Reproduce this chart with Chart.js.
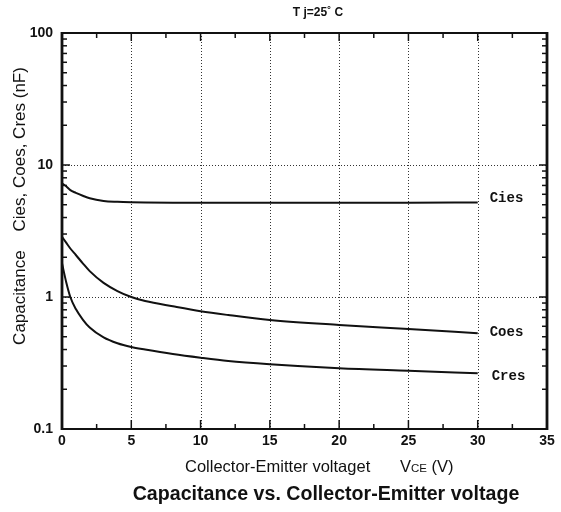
<!DOCTYPE html>
<html>
<head>
<meta charset="utf-8">
<script src="https://cdn.jsdelivr.net/npm/chart.js@4"></script>
<style>
  html, body { margin: 0; padding: 0; background: #fff; }
  #c { display: block; }
</style>
</head>
<body>
<canvas id="c" width="561" height="512"></canvas>
<script>
// ---- data ----
const vce  = [0,    0.3,  0.6,  1,    1.5,  2,    3,    4,    5,    6,    8,     10,    12,    15,    20,    25,    30];
const cies = [7.27, 6.9,  6.45, 6.15, 5.85, 5.6,  5.34, 5.26, 5.22, 5.2,  5.18,  5.17,  5.17,  5.17,  5.17,  5.18,  5.2];
const coes = [2.86, 2.58, 2.33, 2.08, 1.8,  1.57, 1.28, 1.11, 1.0,  0.933, 0.85, 0.78,  0.73,  0.67,  0.614, 0.572, 0.531];
const cres = [1.8,  1.3,  1.0,  0.81, 0.675, 0.587, 0.494, 0.446, 0.418, 0.4, 0.37,  0.347, 0.328, 0.31,  0.289, 0.276, 0.264];
const seriesNames = ['Cies', 'Coes', 'Cres'];
const xTickValues = [0, 5, 10, 15, 20, 25, 30, 35];
const yTickLabels = ['0.1', '1', '10', '100'];
const xTitle = 'Collector-Emitter voltaget';
const yTitle = 'Capacitance    Cies, Coes, Cres (nF)';
const chartTitle = 'Capacitance vs. Collector-Emitter voltage';
const condition = 'T j=25\u02DA C';

const toPts = (arr) => vce.map((x, i) => ({ x: x, y: arr[i] }));
const FONT = "'Liberation Sans', Arial, Helvetica, sans-serif";

const framePlugin = {
  id: 'frame',
  beforeDraw(chart) {
    const ctx = chart.ctx;
    ctx.save();
    ctx.fillStyle = '#fff';
    ctx.fillRect(0, 0, chart.width, chart.height);
    ctx.restore();
  },
  beforeDatasetsDraw(chart) {
    const { ctx, chartArea: a, scales } = chart;
    const xs = scales.x, ys = scales.y;
    ctx.save();
    ctx.strokeStyle = '#333';
    ctx.lineWidth = 1;
    ctx.setLineDash([1, 2]);
    [5, 10, 15, 20, 25, 30].forEach(v => {
      const px = Math.round(xs.getPixelForValue(v)) + 0.5;
      ctx.beginPath(); ctx.moveTo(px, a.top); ctx.lineTo(px, a.bottom); ctx.stroke();
    });
    [1, 10].forEach(v => {
      const py = Math.round(ys.getPixelForValue(v)) + 0.5;
      ctx.beginPath(); ctx.moveTo(a.left, py); ctx.lineTo(a.right, py); ctx.stroke();
    });
    ctx.restore();
  },
  afterDatasetsDraw(chart) {
    const { ctx, chartArea: a, scales } = chart;
    const xs = scales.x, ys = scales.y;
    ctx.save();
    ctx.strokeStyle = '#111';
    ctx.setLineDash([]);
    // tick marks (inward)
    ctx.lineWidth = 1.5;
    for (let v = 2.5; v < 35; v += 2.5) {
      const major = Math.abs(v % 5) < 1e-9;
      const px = xs.getPixelForValue(v);
      const lb = major ? 9 : 5;
      const lt = major ? 8 : 5;
      ctx.beginPath(); ctx.moveTo(px, a.bottom); ctx.lineTo(px, a.bottom - lb); ctx.stroke();
      ctx.beginPath(); ctx.moveTo(px, a.top); ctx.lineTo(px, a.top + lt); ctx.stroke();
    }
    for (let d = 0.1; d < 100; d *= 10) {
      for (let k = 2; k <= 10; k++) {
        const v = d * k;
        if (v >= 100) break;
        const py = ys.getPixelForValue(v);
        const len = (k === 10) ? 8 : 5;
        ctx.beginPath(); ctx.moveTo(a.left, py); ctx.lineTo(a.left + len, py); ctx.stroke();
        ctx.beginPath(); ctx.moveTo(a.right, py); ctx.lineTo(a.right - len, py); ctx.stroke();
      }
    }
    // frame
    ctx.lineWidth = 2;
    ctx.beginPath(); ctx.moveTo(a.left - 1, a.top); ctx.lineTo(a.right + 1, a.top); ctx.stroke();
    ctx.beginPath(); ctx.moveTo(a.left - 1, a.bottom); ctx.lineTo(a.right + 1, a.bottom); ctx.stroke();
    ctx.lineWidth = 2.8;
    ctx.beginPath(); ctx.moveTo(a.left, a.top - 1); ctx.lineTo(a.left, a.bottom + 1); ctx.stroke();
    ctx.beginPath(); ctx.moveTo(a.right, a.top - 1); ctx.lineTo(a.right, a.bottom + 1); ctx.stroke();

    // series labels at the end of the curves
    ctx.fillStyle = '#111';
    ctx.font = "bold 14px 'Liberation Mono', 'DejaVu Sans Mono', monospace";
    ctx.textBaseline = 'middle';
    ctx.textAlign = 'left';
    const lblX = xs.getPixelForValue(30) + 12;
    ctx.fillText(seriesNames[0], lblX, ys.getPixelForValue(cies[cies.length - 1]) - 4);
    ctx.fillText(seriesNames[1], lblX, ys.getPixelForValue(coes[coes.length - 1]) - 1);
    ctx.fillText(seriesNames[2], lblX + 2, ys.getPixelForValue(cres[cres.length - 1]) + 3);
    ctx.restore();
  },
  afterDraw(chart) {
    const ctx = chart.ctx;
    ctx.save();
    ctx.fillStyle = '#111';
    // condition
    ctx.font = 'bold 12px ' + FONT;
    ctx.textAlign = 'center';
    ctx.textBaseline = 'middle';
    ctx.fillText(condition, 318, 13);
    // y title
    ctx.save();
    ctx.translate(20, 206);
    ctx.rotate(-Math.PI / 2);
    ctx.font = '17px ' + FONT;
    ctx.textAlign = 'center';
    ctx.textBaseline = 'middle';
    ctx.fillText(yTitle, 0, 0);
    ctx.restore();
    // x title with small-caps subscript
    ctx.textAlign = 'left';
    ctx.textBaseline = 'alphabetic';
    const base = 472;
    ctx.font = '16.5px ' + FONT;
    ctx.fillText(xTitle, 185, base);
    let x = 400;
    ctx.fillText('V', x, base); x += ctx.measureText('V').width;
    ctx.font = '11.5px ' + FONT;
    ctx.fillText('CE', x, base); x += ctx.measureText('CE').width;
    ctx.font = '16.5px ' + FONT;
    ctx.fillText(' (V)', x, base);
    // chart title
    ctx.font = 'bold 19.6px ' + FONT;
    ctx.textAlign = 'center';
    ctx.fillText(chartTitle, 326, 500);
    ctx.restore();
  }
};

new Chart(document.getElementById('c'), {
  type: 'scatter',
  data: {
    datasets: [
      { label: seriesNames[0], data: toPts(cies) },
      { label: seriesNames[1], data: toPts(coes) },
      { label: seriesNames[2], data: toPts(cres) }
    ].map(d => Object.assign(d, {
      showLine: true,
      borderColor: '#111',
      borderWidth: 2,
      pointRadius: 0,
      fill: false,
      cubicInterpolationMode: 'monotone'
    }))
  },
  options: {
    responsive: false,
    animation: false,
    devicePixelRatio: 1,
    layout: { padding: { left: 0, right: 14, top: 33, bottom: 58 } },
    plugins: { legend: { display: false }, tooltip: { enabled: false }, title: { display: false } },
    scales: {
      x: {
        type: 'linear',
        min: 0, max: 35,
        afterBuildTicks(scale) { scale.ticks = xTickValues.map(v => ({ value: v })); },
        afterFit(scale) { scale.height = 25; },
        grid: { display: false, drawTicks: false },
        border: { display: false },
        ticks: {
          autoSkip: false, maxRotation: 0, padding: 4,
          color: '#111',
          font: { family: FONT, size: 14, weight: 'bold' }
        }
      },
      y: {
        type: 'logarithmic',
        min: 0.1, max: 100,
        afterBuildTicks(scale) { scale.ticks = yTickLabels.map(s => ({ value: parseFloat(s) })); },
        afterFit(scale) { scale.width = 62; },
        grid: { display: false, drawTicks: false },
        border: { display: false },
        ticks: {
          autoSkip: false, padding: 9,
          color: '#111',
          font: { family: FONT, size: 14, weight: 'bold' },
          callback(value) {
            const i = yTickLabels.findIndex(s => Math.abs(parseFloat(s) - value) < 1e-9);
            return i >= 0 ? yTickLabels[i] : '';
          }
        }
      }
    }
  },
  plugins: [framePlugin]
});
</script>
</body>
</html>
